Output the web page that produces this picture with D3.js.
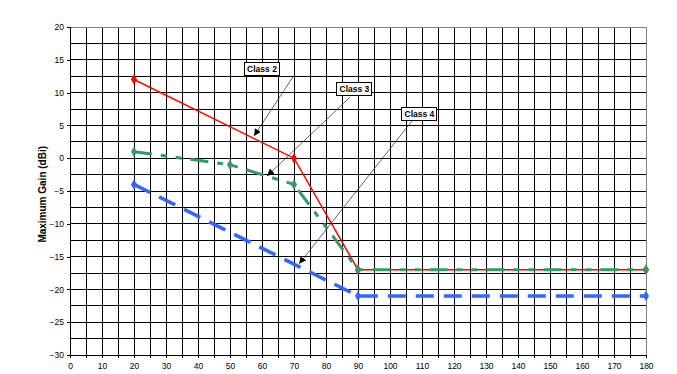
<!doctype html>
<html lang="en">
<head>
	<meta charset="UTF-8">
	<title>Maximum Gain</title>
	<script src="https://d3js.org/d3.v7.min.js"></script>
	<style>
		body { margin: 0; padding: 0; background: #fff; font-family: "Liberation Sans", Arial, sans-serif; }
		svg text { font-family: "Liberation Sans", Arial, sans-serif; }
	</style>
</head>
<body>
	<div id="chart"></div>
	<script>
		// data
		const classes = ['Class 2', 'Class 3', 'Class 4'];
		const class2 = [[20, 12], [70, 0], [90, -17], [180, -17]];
		const class3 = [[20, 1], [50, -1], [70, -4], [90, -17], [180, -17]];
		const class4 = [[20, -4], [90, -21], [180, -21]];
		const xTicks = d3.range(0, 181, 10);
		const yTicks = d3.range(-30, 21, 5);

		// callouts: label position and arrow from/to (data units)
		const callouts = [
			{ label: 'Class 2', at: [60, 13.6], from: [69.7, 12.4], to: [57.5, 3.4] },
			{ label: 'Class 3', at: [88.9, 10.5], from: [87.5, 9.3], to: [61.6, -2.7] },
			{ label: 'Class 4', at: [109.2, 6.8], from: [106.9, 5.7], to: [71.6, -16.1] }
		];

		const width = 677;
		const height = 374;
		const margin = { top: 27, right: 31, bottom: 19, left: 70 };

		const svg = d3.select('#chart').append('svg')
			.attr('width', width)
			.attr('height', height);

		const x = d3.scaleLinear().domain([0, 180]).range([margin.left, width - margin.right]);
		const y = d3.scaleLinear().domain([-30, 20]).range([height - margin.bottom, margin.top]);

		// grid
		const grid = svg.append('g').attr('shape-rendering', 'crispEdges');
		grid.selectAll('.vg')
			.data(d3.range(5, 180, 5))
			.enter().append('line')
			.attr('x1', d => x(d)).attr('x2', d => x(d))
			.attr('y1', y(-30)).attr('y2', y(20))
			.attr('stroke', '#000');
		grid.selectAll('.hg')
			.data(d3.range(-27.5, 20, 2.5))
			.enter().append('line')
			.attr('x1', x(0)).attr('x2', x(180))
			.attr('y1', d => y(d)).attr('y2', d => y(d))
			.attr('stroke', '#000');

		// top and right border
		grid.append('path')
			.attr('d', 'M' + x(0) + ',' + y(20) + 'H' + x(180) + 'V' + y(-30))
			.attr('fill', 'none')
			.attr('stroke', '#808080');

		// axes
		const yAxis = svg.append('g')
			.attr('transform', 'translate(' + x(0) + ',0)')
			.call(d3.axisLeft(y).tickValues(yTicks).tickSize(3).tickPadding(3));
		const xAxis = svg.append('g')
			.attr('transform', 'translate(0,' + y(-30) + ')')
			.call(d3.axisBottom(x).tickValues(d3.range(0, 181, 5)).tickSize(3).tickPadding(5)
				.tickFormat(d => xTicks.includes(d) ? d : ''));
		[xAxis, yAxis].forEach(a => {
			a.select('.domain').attr('stroke', '#000');
			a.selectAll('line').attr('stroke', '#000');
			a.selectAll('text').attr('font-size', 8.5).attr('fill', '#000');
			a.attr('shape-rendering', 'crispEdges');
		});
		yAxis.selectAll('text').attr('text-anchor', 'end');

		// y title
		svg.append('text')
			.attr('transform', 'translate(46,' + y(-5.5) + ') rotate(-90)')
			.attr('text-anchor', 'middle')
			.attr('font-size', 10)
			.attr('font-weight', 'bold')
			.text('Maximum Gain (dBi)');

		const line = d3.line().x(d => x(d[0])).y(d => y(d[1]));
		const diamond = d3.symbol().type(d3.symbolDiamond).size(32);

		const series = [
			{ name: classes[0], data: class2, color: '#ff0000', width: 1.5, dash: null },
			{ name: classes[1], data: class3, color: '#339966', width: 3, dash: '18,9,6,9,6,9' },
			{ name: classes[2], data: class4, color: '#3366ff', width: 3.5, dash: '18,10' }
		];

		series.forEach(s => {
			const g = svg.append('g');
			g.append('path')
				.datum(s.data)
				.attr('d', line)
				.attr('fill', 'none')
				.attr('stroke', s.color)
				.attr('stroke-width', s.width)
				.attr('stroke-dasharray', s.dash);
			g.selectAll('.pt')
				.data(s.data)
				.enter().append('path')
				.attr('d', diamond)
				.attr('transform', d => 'translate(' + x(d[0]) + ',' + y(d[1]) + ')')
				.attr('fill', s.color);
		});

		// arrowheads
		svg.append('defs').append('marker')
			.attr('id', 'arrow')
			.attr('viewBox', '0 0 10 10')
			.attr('refX', 10).attr('refY', 5)
			.attr('markerWidth', 7).attr('markerHeight', 7)
			.attr('markerUnits', 'userSpaceOnUse')
			.attr('orient', 'auto')
			.append('path')
			.attr('d', 'M0,0L10,5L0,10z')
			.attr('fill', '#000');

		// callouts
		const co = svg.selectAll('.callout')
			.data(callouts)
			.enter().append('g')
			.attr('class', 'callout');
		co.append('line')
			.attr('x1', d => x(d.from[0])).attr('y1', d => y(d.from[1]))
			.attr('x2', d => x(d.to[0])).attr('y2', d => y(d.to[1]))
			.attr('stroke', '#333')
			.attr('stroke-width', 0.75)
			.attr('marker-end', 'url(#arrow)');
		co.append('rect')
			.attr('x', d => x(d.at[0]) - 17.5)
			.attr('y', d => y(d.at[1]) - 6.5)
			.attr('width', 35)
			.attr('height', 13)
			.attr('fill', '#fff')
			.attr('stroke', '#000')
			.attr('stroke-width', 1)
			.attr('shape-rendering', 'crispEdges');
		co.append('text')
			.attr('x', d => x(d.at[0]))
			.attr('y', d => y(d.at[1]) + 3)
			.attr('text-anchor', 'middle')
			.attr('font-size', 8.5)
			.attr('font-weight', 'bold')
			.text(d => d.label);
	</script>
</body>
</html>
